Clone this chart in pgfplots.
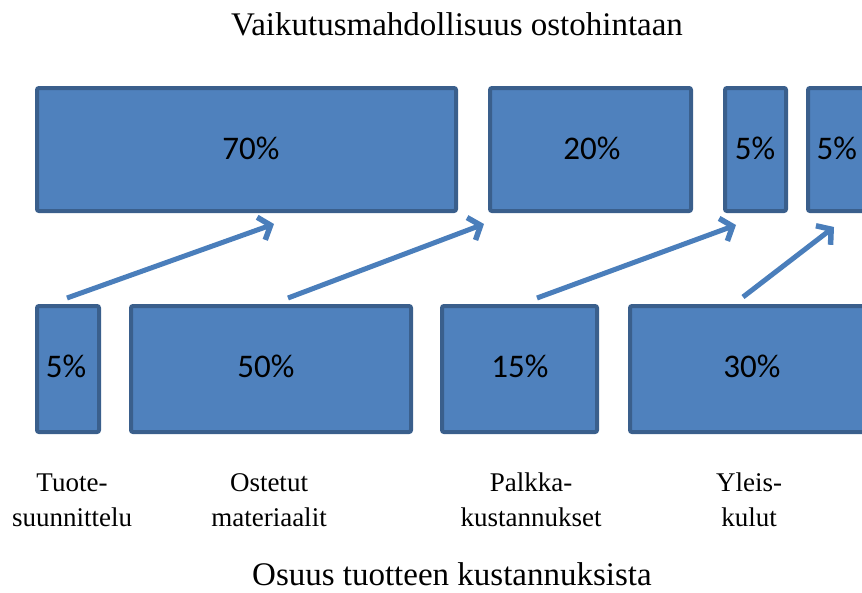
\documentclass[border=0pt]{standalone}
\usepackage{pgfplots}
\pgfplotsset{compat=1.18}
\usepackage{fontspec}
\setmainfont{Liberation Serif}
\newfontfamily\calib{Carlito}
\usetikzlibrary{arrows.meta}
\definecolor{boxfill}{HTML}{4F81BD}
\definecolor{boxedge}{HTML}{3A5F8C}
\definecolor{arr}{HTML}{4A7EBB}
\begin{document}
\begin{tikzpicture}
\begin{axis}[
  scale only axis, width=862pt, height=592pt,
  xmin=0, xmax=862, ymin=0, ymax=592, y dir=reverse,
  hide axis, clip=true,
  box/.style={fill=boxfill, draw=boxedge, line width=4pt, rounded corners=2pt},
  arw/.style={draw=arr, line width=5pt, -{Straight Barb[length=10pt,width=24pt,line width=5.5pt]}},
]
% top row
\addplot[box] coordinates {(37,88) (456,88) (456,211) (37,211)} -- cycle;
\addplot[box] coordinates {(490,88) (691,88) (691,211) (490,211)} -- cycle;
\addplot[box] coordinates {(725,88) (786,88) (786,211) (725,211)} -- cycle;
\addplot[box] coordinates {(808,88) (880,88) (880,211) (808,211)} -- cycle;
% bottom row
\addplot[box] coordinates {(37,306) (99,306) (99,432) (37,432)} -- cycle;
\addplot[box] coordinates {(131,306) (411,306) (411,432) (131,432)} -- cycle;
\addplot[box] coordinates {(442,306) (597,306) (597,432) (442,432)} -- cycle;
\addplot[box] coordinates {(630,306) (890,306) (890,432) (630,432)} -- cycle;
% arrows
\addplot[arw] coordinates {(67,298) (274,224)};
\addplot[arw] coordinates {(288,298) (484,224)};
\addplot[arw] coordinates {(537,298) (736,225)};
\addplot[arw] coordinates {(743,297) (834,227)};
% labels
\node[font=\calib\fontsize{33}{38}\selectfont] at (axis cs:251,148) {70\%};
\node[font=\calib\fontsize{33}{38}\selectfont] at (axis cs:592,148) {20\%};
\node[font=\calib\fontsize{33}{38}\selectfont] at (axis cs:755,148) {5\%};
\node[font=\calib\fontsize{33}{38}\selectfont, anchor=west] at (axis cs:813,148) {5\%};
\node[font=\calib\fontsize{33}{38}\selectfont] at (axis cs:66,366) {5\%};
\node[font=\calib\fontsize{33}{38}\selectfont] at (axis cs:266,366) {50\%};
\node[font=\calib\fontsize{33}{38}\selectfont] at (axis cs:520,366) {15\%};
\node[font=\calib\fontsize{33}{38}\selectfont] at (axis cs:752,366) {30\%};
\node[font=\fontsize{33}{38}\selectfont] at (axis cs:457,24) {Vaikutusmahdollisuus ostohintaan};
\node[font=\fontsize{33}{38}\selectfont] at (axis cs:452,574) {Osuus tuotteen kustannuksista};
\node[font=\fontsize{27}{35}\selectfont, align=center] at (axis cs:72,500) {Tuote-\\suunnittelu};
\node[font=\fontsize{27}{35}\selectfont, align=center] at (axis cs:269,500) {Ostetut\\materiaalit};
\node[font=\fontsize{27}{35}\selectfont, align=center] at (axis cs:531,500) {Palkka-\\kustannukset};
\node[font=\fontsize{27}{35}\selectfont, align=center] at (axis cs:749,500) {Yleis-\\kulut};
\end{axis}
\pgfresetboundingbox
\path[use as bounding box] (current axis.south west) rectangle (current axis.north east);
\end{tikzpicture}
\end{document}
